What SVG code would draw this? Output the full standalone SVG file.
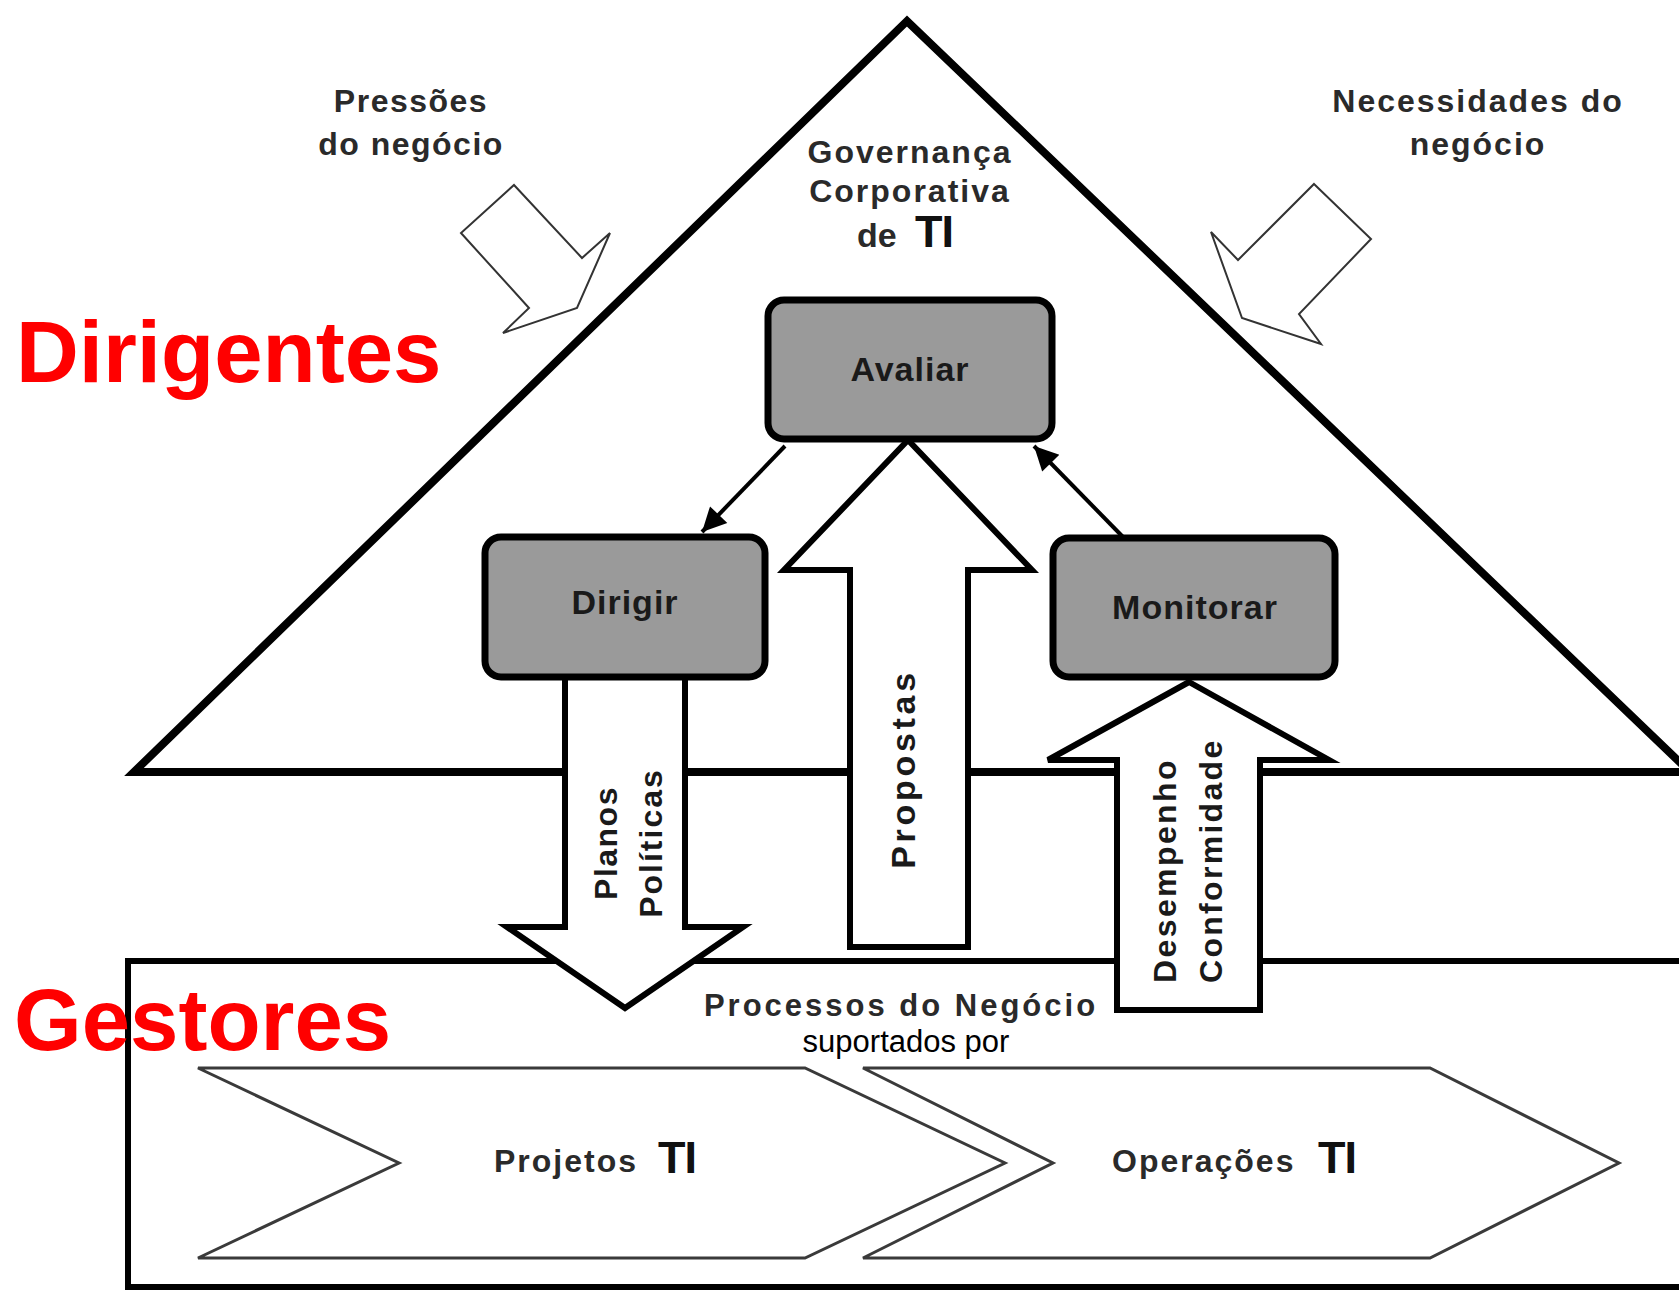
<svg xmlns="http://www.w3.org/2000/svg" width="1679" height="1290" viewBox="0 0 1679 1290">
<defs>
<style>
.lbl{font-family:"Liberation Sans",Arial,Helvetica,sans-serif;font-weight:bold;fill:#2a2a2a;font-size:32px;letter-spacing:2px}
.box{fill:#9a9a9a;stroke:#000;stroke-width:7}
.boxt{font-family:"Liberation Sans",Arial,Helvetica,sans-serif;font-weight:bold;font-size:34px;fill:#1a1a1a;letter-spacing:1px;text-anchor:middle}
.big{fill:#fff;stroke:#000;stroke-width:6;stroke-linejoin:miter}
.hollow{fill:#fff;stroke:#333;stroke-width:2}
.chev{fill:#fff;stroke:#3a3a3a;stroke-width:3}
.red{font-family:"Liberation Sans",Arial,Helvetica,sans-serif;font-weight:bold;font-size:87px;fill:#ff0000}
.ti{font-family:"Liberation Sans",Arial,Helvetica,sans-serif;font-weight:bold;font-size:45px;fill:#111;letter-spacing:-1px}
.rot{font-family:"Liberation Sans",Arial,Helvetica,sans-serif;font-weight:bold;fill:#1a1a1a;font-size:32px}
</style>
<marker id="ah" viewBox="0 0 10 10" refX="10" refY="5" markerWidth="30" markerHeight="24" markerUnits="userSpaceOnUse" orient="auto">
<path d="M0,0 L10,5 L0,10 z" fill="#000"/>
</marker>
</defs>
<rect width="1679" height="1290" fill="#fff"/>

<g id="house">
<polygon points="907,21 134,772 1690,772" fill="none" stroke="#000" stroke-width="8" stroke-linejoin="miter"/>
</g>

<g id="processos-area">
<polyline points="1690,961 128,961 128,1287 1690,1287" fill="none" stroke="#000" stroke-width="6"/>
</g>

<g id="pressoes">
<polygon class="hollow" points="514,185 582,258 610,233 577,308 503,333 529,308 461,233"/>
<text class="lbl" x="411" y="112" text-anchor="middle" style="letter-spacing:1.5px">Pressões</text>
<text class="lbl" x="411" y="155" text-anchor="middle" style="letter-spacing:1.5px">do negócio</text>
</g>

<g id="necessidades">
<polygon class="hollow" points="1314,184 1371,239 1299,314 1321,344 1242,318 1211,232 1238,260"/>
<text class="lbl" x="1478" y="112" text-anchor="middle">Necessidades do</text>
<text class="lbl" x="1478" y="155" text-anchor="middle">negócio</text>
</g>

<g id="governanca">
<text class="lbl" x="910" y="163" text-anchor="middle">Governança</text>
<text class="lbl" x="910" y="202" text-anchor="middle">Corporativa</text>
<text class="lbl" x="857" y="247" style="font-size:34px;letter-spacing:0">de</text>
<text class="ti" x="915" y="247">TI</text>
</g>

<g id="connectors">
<line x1="785" y1="446" x2="702" y2="532" stroke="#000" stroke-width="4" marker-end="url(#ah)"/>
<line x1="1123" y1="537" x2="1034" y2="446" stroke="#000" stroke-width="4" marker-end="url(#ah)"/>
</g>

<g id="propostas">
<polygon class="big" points="908,440 1032,570 968,570 968,947 850,947 850,570 784,570"/>
<text class="rot" style="font-size:34px;letter-spacing:3.7px" text-anchor="middle" transform="translate(915,769) rotate(-90)">Propostas</text>
</g>

<g id="planos">
<polygon class="big" points="565,670 685,670 685,927 743,927 625,1008 507,927 565,927"/>
<text class="rot" style="letter-spacing:1.5px" text-anchor="middle" transform="translate(617,843) rotate(-90)">Planos</text>
<text class="rot" style="letter-spacing:2px" text-anchor="middle" transform="translate(662,843) rotate(-90)">Políticas</text>
</g>

<g id="desempenho">
<polygon class="big" points="1189,682 1329,760 1260,760 1260,1010 1117,1010 1117,760 1048,760"/>
<text class="rot" style="letter-spacing:2.4px" text-anchor="start" transform="translate(1176,983) rotate(-90)">Desempenho</text>
<text class="rot" style="letter-spacing:2.3px" text-anchor="start" transform="translate(1222,983) rotate(-90)">Conformidade</text>
</g>

<g id="avaliar">
<rect class="box" x="768" y="300" width="284" height="139" rx="16"/>
<text class="boxt" x="910" y="381">Avaliar</text>
</g>

<g id="dirigir">
<rect class="box" x="485" y="537" width="280" height="140" rx="16"/>
<text class="boxt" x="625" y="614">Dirigir</text>
</g>

<g id="monitorar">
<rect class="box" x="1053" y="538" width="282" height="139" rx="16"/>
<text class="boxt" x="1195" y="619">Monitorar</text>
</g>

<g id="processos-label">
<text class="lbl" style="font-size:31px;letter-spacing:3px" x="901" y="1016" text-anchor="middle">Processos do Negócio</text>
<text x="906" y="1052" font-family="Liberation Sans, Arial, Helvetica, sans-serif" font-size="31" fill="#000" text-anchor="middle">suportados por</text>
</g>

<g id="projetos">
<polygon class="chev" points="198,1068 805,1068 1005,1163 805,1258 198,1258 399,1163"/>
<text class="lbl" x="494" y="1172">Projetos</text>
<text class="ti" x="658" y="1173">TI</text>
</g>

<g id="operacoes">
<polygon class="chev" points="863,1068 1430,1068 1619,1163 1430,1258 863,1258 1053,1163"/>
<text class="lbl" x="1112" y="1172">Operações</text>
<text class="ti" x="1318" y="1173">TI</text>
</g>

<g id="roles">
<text class="red" x="16" y="382">Dirigentes</text>
<text class="red" x="14" y="1050">Gestores</text>
</g>
</svg>
